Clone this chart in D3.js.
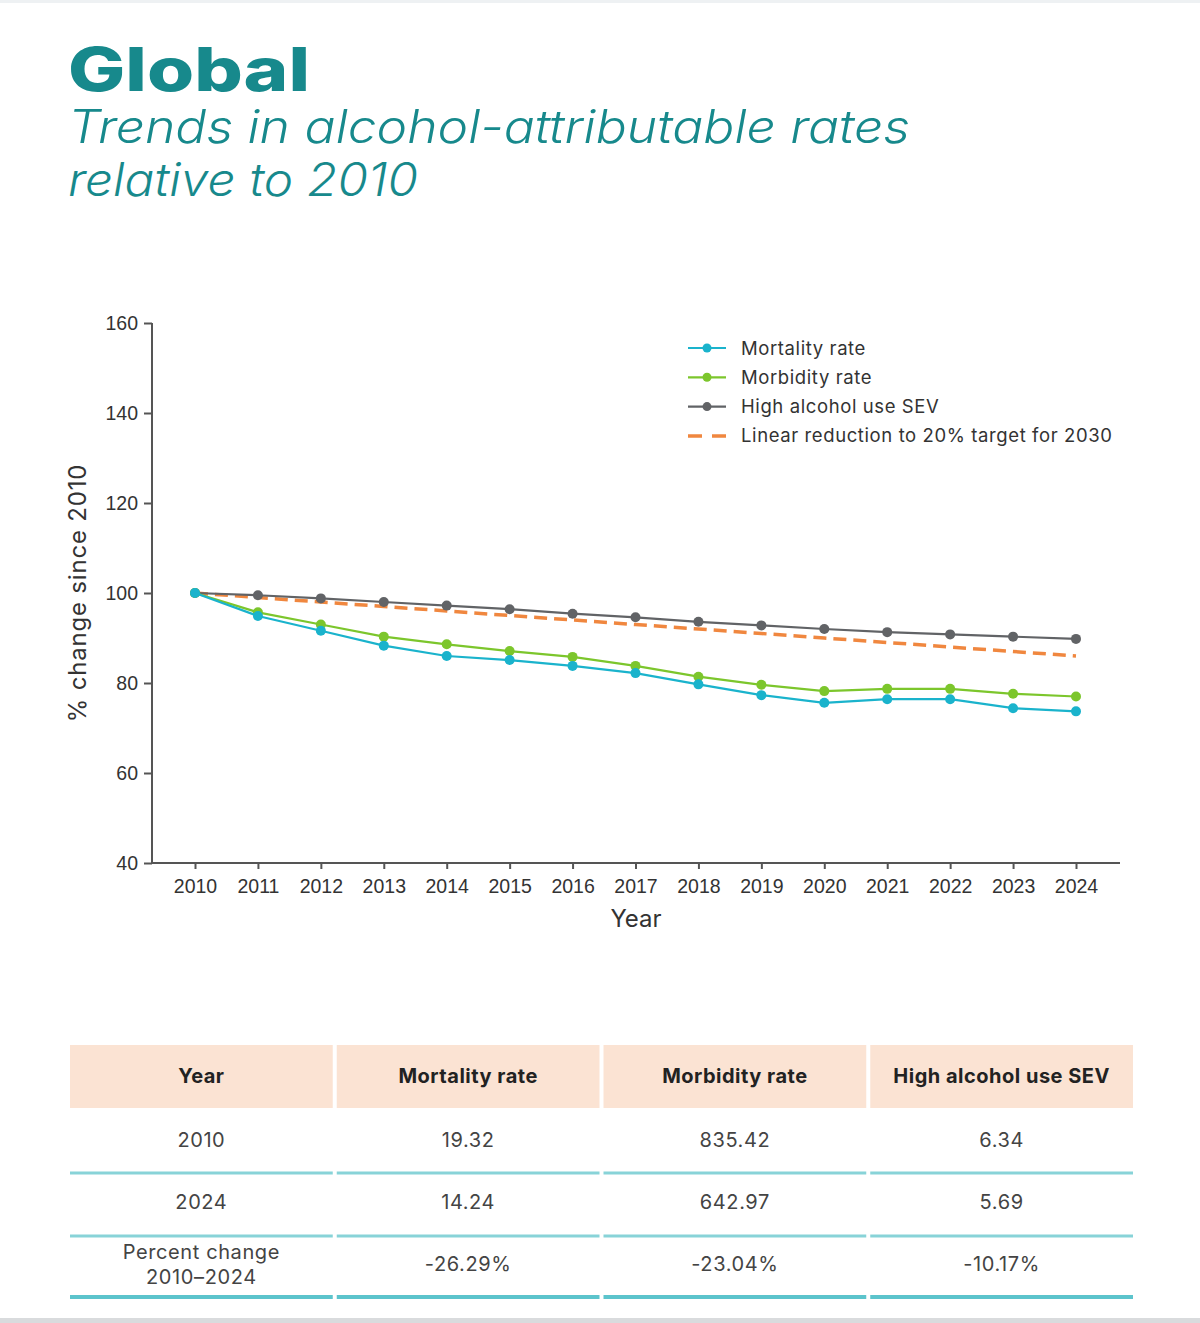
<!DOCTYPE html>
<html>
<head>
<meta charset="utf-8">
<script src="https://cdn.jsdelivr.net/npm/d3@7"></script>
<style>
  html, body { margin: 0; padding: 0; background: #fff; }
  svg { display: block; font-family: Inter, "Noto Sans", sans-serif; }
  .axis text { fill: #333; font-size: 19.5px; }
  .axis path, .axis line { stroke: #555; stroke-width: 2; }
</style>
</head>
<body>
<div id="view"></div>
<script>
  /* ============ DATA ============ */
  const years     = [2010,2011,2012,2013,2014,2015,2016,2017,2018,2019,2020,2021,2022,2023,2024];
  const mortality = [100,94.9,91.6,88.3,86.0,85.1,83.8,82.2,79.7,77.3,75.6,76.4,76.4,74.4,73.7];
  const morbidity = [100,95.7,93.0,90.3,88.6,87.1,85.8,83.8,81.4,79.6,78.2,78.7,78.7,77.6,77.0];
  const sev       = [100,99.5,98.8,98.0,97.2,96.4,95.4,94.6,93.6,92.8,92.0,91.3,90.8,90.3,89.8];
  const target    = [100,99,98,97,96,95,94,93,92,91,90,89,88,87,86];
  const yTicks    = [40,60,80,100,120,140,160];

  const seriesNames = ["Mortality rate","Morbidity rate","High alcohol use SEV","Linear reduction to 20% target for 2030"];

  const tableHead = ["Year","Mortality rate","Morbidity rate","High alcohol use SEV"];
  const tableRows = [
    [["2010"], ["19.32"], ["835.42"], ["6.34"]],
    [["2024"], ["14.24"], ["642.97"], ["5.69"]],
    [["Percent change","2010–2024"], ["-26.29%"], ["-23.04%"], ["-10.17%"]]
  ];

  /* ============ STYLE ============ */
  const COLORS = { mort: "#1ab3cc", morb: "#7cc62c", sev: "#616366", target: "#f0873f" };
  const TEAL = "#17898c";

  const W = 1200, H = 1323;
  const svg = d3.select("#view").append("svg").attr("width", W).attr("height", H);

  // top and bottom hairlines of the card
  svg.append("rect").attr("x",0).attr("y",0).attr("width",W).attr("height",3).attr("fill","#eef1f3");
  svg.append("rect").attr("x",0).attr("y",H-5).attr("width",W).attr("height",5).attr("fill","#d9dbdd");

  // Title (stretched to the width of the original's rounder typeface)
  svg.append("text").attr("x",68).attr("y",91)
    .attr("fill",TEAL).style("font-size","60px").style("font-weight",800)
    .attr("textLength",242).attr("lengthAdjust","spacingAndGlyphs")
    .text("Global");
  svg.append("text").attr("x",68).attr("y",143)
    .attr("fill",TEAL).style("font-size","46px").style("font-style","italic")
    .style("font-weight",300)
    .attr("textLength",842).attr("lengthAdjust","spacingAndGlyphs")
    .text("Trends in alcohol-attributable rates");
  svg.append("text").attr("x",68).attr("y",196)
    .attr("fill",TEAL).style("font-size","46px").style("font-style","italic")
    .style("font-weight",300)
    .attr("textLength",350).attr("lengthAdjust","spacingAndGlyphs")
    .text("relative to 2010");

  /* ============ CHART ============ */
  const M = { l: 152, t: 323, r: 1120, b: 863 };
  const x = d3.scaleLinear().domain([2010, 2024]).range([195, 1076]);
  const y = d3.scaleLinear().domain([40, 160]).range([M.b, M.t]);

  const g = svg.append("g");

  // Y axis
  g.append("g").attr("class","axis")
    .attr("transform",`translate(${M.l},0)`)
    .call(d3.axisLeft(y).tickValues(yTicks).tickSize(8).tickSizeOuter(0).tickPadding(6))
    .call(s => s.select(".domain").attr("d", `M0,${M.t}V${M.b}`));

  // X axis
  g.append("g").attr("class","axis")
    .attr("transform",`translate(0,${M.b})`)
    .call(d3.axisBottom(x).tickValues(years).tickFormat(d3.format("d")).tickSize(6).tickSizeOuter(0).tickPadding(10))
    .call(s => s.select(".domain").attr("d", `M${M.l},0H${M.r}`));

  // Axis titles
  g.append("text")
    .attr("transform",`translate(86,${(M.t+M.b)/2}) rotate(-90)`)
    .attr("text-anchor","middle").attr("fill","#333").style("font-size","24px")
    .style("letter-spacing","0.8px")
    .text("% change since 2010");
  g.append("text")
    .attr("x",636).attr("y",927).attr("text-anchor","middle")
    .attr("fill","#333").style("font-size","24px").text("Year");

  const line = d3.line().x(d => x(d[0])).y(d => y(d[1]));
  const zip = vals => years.map((yr,i) => [yr, vals[i]]);

  // Target dashed line
  g.append("path").datum(zip(target))
    .attr("d", line).attr("fill","none")
    .attr("stroke",COLORS.target).attr("stroke-width",3.5)
    .attr("stroke-dasharray","13,7");

  const series = [
    { key:"sev",  vals: sev },
    { key:"morb", vals: morbidity },
    { key:"mort", vals: mortality }
  ];
  series.forEach(s => {
    const pts = zip(s.vals);
    g.append("path").datum(pts)
      .attr("d", line).attr("fill","none")
      .attr("stroke",COLORS[s.key]).attr("stroke-width",2.2);
    g.selectAll(null).data(pts).join("circle")
      .attr("cx", d => x(d[0])).attr("cy", d => y(d[1]))
      .attr("r", 5).attr("fill", COLORS[s.key]);
  });

  // Legend
  const legKeys = ["mort","morb","sev","target"];
  const leg = g.append("g").attr("transform","translate(688,348)");
  legKeys.forEach((k,i) => {
    const row = leg.append("g").attr("transform",`translate(0,${i*29.3})`);
    if (k === "target") {
      row.append("line").attr("x1",0).attr("x2",38).attr("y1",0).attr("y2",0)
        .attr("stroke",COLORS.target).attr("stroke-width",3.5).attr("stroke-dasharray","14,10");
    } else {
      row.append("line").attr("x1",0).attr("x2",38).attr("y1",0).attr("y2",0)
        .attr("stroke",COLORS[k]).attr("stroke-width",2.2);
      row.append("circle").attr("cx",19).attr("cy",0).attr("r",4.5).attr("fill",COLORS[k]);
    }
    row.append("text").attr("x",53).attr("y",6.5)
      .attr("fill","#333").style("font-size","18.5px").style("letter-spacing","0.6px")
      .text(seriesNames[i]);
  });

  /* ============ TABLE ============ */
  const col = d3.scaleBand().domain(d3.range(tableHead.length)).range([70, 1133]).paddingInner(0.015);
  const tb = svg.append("g");

  tb.selectAll("rect.head").data(tableHead).join("rect")
    .attr("class","head")
    .attr("x",(d,i)=>col(i)).attr("y",1045)
    .attr("width",col.bandwidth()).attr("height",63)
    .attr("fill","#fbe3d3");
  tb.selectAll("text.head").data(tableHead).join("text")
    .attr("class","head")
    .attr("x",(d,i)=>col(i)+col.bandwidth()/2).attr("y",1083)
    .attr("text-anchor","middle").attr("fill","#222")
    .style("font-size","20px").style("font-weight",700).style("letter-spacing","0.5px")
    .text(d=>d);

  const rowY   = [1147, 1209, 1271];
  const lineY  = [1173, 1236, 1297];
  tableRows.forEach((r, ri) => {
    r.forEach((cell, ci) => {
      const t = tb.append("text")
        .attr("x", col(ci)+col.bandwidth()/2)
        .attr("text-anchor","middle").attr("fill","#444")
        .style("font-size","20px").style("letter-spacing","0.6px");
      if (cell.length === 1) {
        t.attr("y", rowY[ri]).text(cell[0]);
      } else {
        cell.forEach((s, k) => {
          t.append("tspan").attr("x", col(ci)+col.bandwidth()/2)
            .attr("y", rowY[ri] - 12 + k*25).text(s);
        });
      }
      tb.append("rect")
        .attr("x", col(ci)).attr("y", lineY[ri] - (ri === 2 ? 2 : 1.5))
        .attr("width", col.bandwidth()).attr("height", ri === 2 ? 4 : 3)
        .attr("fill", ri === 2 ? "#5cc4cc" : "#88d3d8");
    });
  });
</script>
</body>
</html>
